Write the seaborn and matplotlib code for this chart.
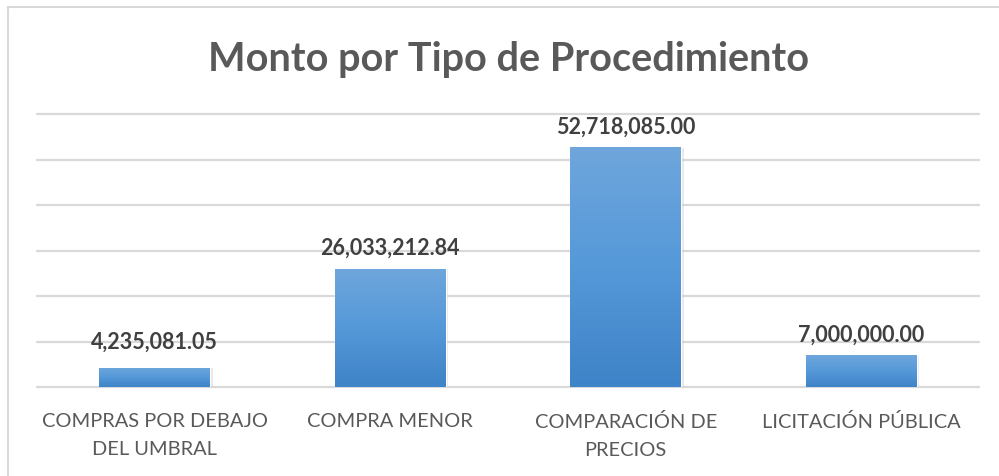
import numpy as np
import pandas as pd
import matplotlib
matplotlib.use("Agg")
import matplotlib.pyplot as plt
import seaborn as sns
from matplotlib.patches import Rectangle

# =========================
# DATA
# =========================
categorias = ["COMPRAS POR DEBAJO\nDEL UMBRAL", "COMPRA MENOR",
              "COMPARACIÓN DE\nPRECIOS", "LICITACIÓN PÚBLICA"]
montos = [4235081.05, 26033212.84, 52718085.00, 7000000.00]
etiquetas = ["4,235,081.05", "26,033,212.84", "52,718,085.00", "7,000,000.00"]

df = pd.DataFrame({"tipo": categorias, "monto": montos})

# =========================
# STYLE
# =========================
sns.set_theme(style="white")
plt.rcParams["font.family"] = ["Lato", "DejaVu Sans"]

fig = plt.figure(figsize=(9.99, 4.77), dpi=100)
ax = fig.add_axes([37 / 999, 89 / 477, 942 / 999, 273 / 477])

# chart frame (cropped at right and bottom)
fig.patches.append(Rectangle((8 / 999, -0.05), 1.1, (477 - 8) / 477 + 0.05,
                             transform=fig.transFigure, fill=False,
                             edgecolor="#d9d9d9", linewidth=1.5))

sns.barplot(data=df, x="tipo", y="monto", color="#5b9bd5", width=0.47,
            ax=ax, zorder=3)

# gradient fill on each bar
grad = np.linspace(0, 1, 256).reshape(-1, 1)
cmap = matplotlib.colors.LinearSegmentedColormap.from_list(
    "g", ["#3f83c8", "#5599d9", "#6fa6dc"])
for p in ax.patches:
    x0, y0 = p.get_x(), p.get_y()
    w, h = p.get_width(), p.get_height()
    # soft shadow
    ax.add_patch(Rectangle((x0 + 0.012, y0), w, h - 150000, facecolor="#bfbfbf",
                           alpha=0.35, edgecolor="none", zorder=2))
    im = ax.imshow(grad, extent=[x0, x0 + w, y0, y0 + h], origin="lower",
                   cmap=cmap, aspect="auto", zorder=4)
    im.set_clip_path(p)

for i, (v, t) in enumerate(zip(montos, etiquetas)):
    extra = 1200000 if v < 5000000 else 0
    ax.text(i, v + 2300000 + extra, t, ha="center", va="bottom", fontsize=15.5,
            fontweight="bold", color="#404040", zorder=5)

ax.set_xlim(-0.5, 3.5)
ax.set_ylim(0, 60000000)
ax.set_yticks(np.arange(0, 60000001, 10000000))
ax.yaxis.grid(True, color="#d9d9d9", linewidth=1.6, zorder=0)
ax.set_axisbelow(True)
for gl in ax.get_ygridlines():
    gl.set_clip_on(False)
ax.set_yticklabels([])
ax.tick_params(axis="y", length=0)
ax.tick_params(axis="x", length=0, pad=18, labelsize=14.4, labelcolor="#595959")
for lbl in ax.get_xticklabels():
    lbl.set_linespacing(1.8)
ax.set_xlabel("")
ax.set_ylabel("")
for s in ax.spines.values():
    s.set_visible(False)

fig.text(509 / 999, 1 - 59 / 477, "Monto por Tipo de Procedimiento",
         ha="center", va="center", fontsize=28.5, fontweight="bold",
         color="#595959")

fig.savefig("out.png", dpi=100, facecolor="white")
